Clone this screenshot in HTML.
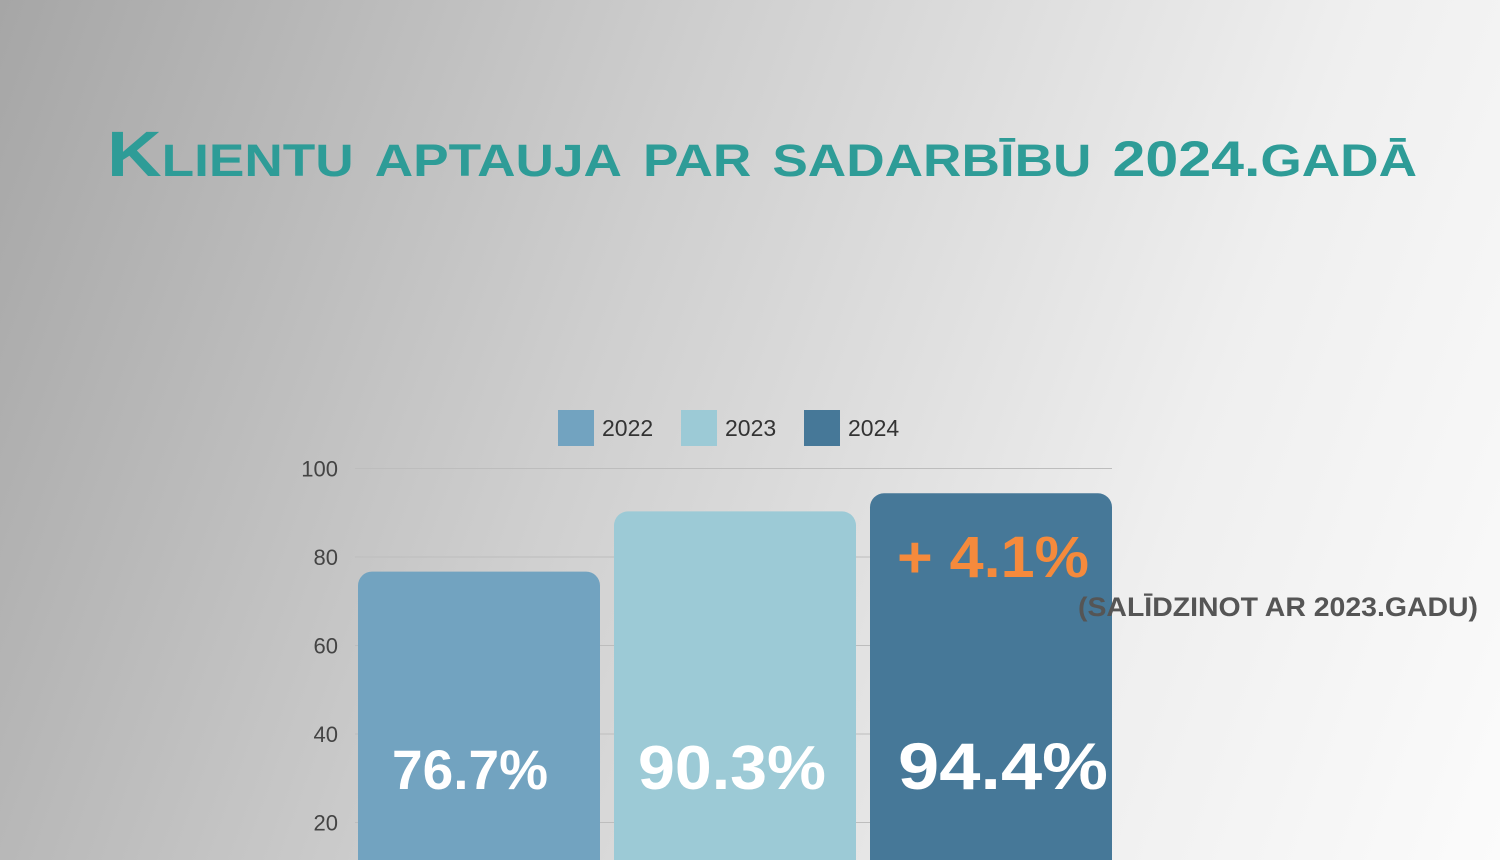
<!DOCTYPE html>
<html><head><meta charset="utf-8"><style>
html,body{margin:0;width:1500px;height:860px;overflow:hidden}
body{background:linear-gradient(110deg,#a6a6a6 0%,#cfcfcf 40%,#efefef 75%,#fbfbfb 100%);font-family:"Liberation Sans",sans-serif}
svg{display:block}
</style></head><body>
<svg width="1500" height="860" id="chart">
<text x="762" y="176" text-anchor="middle" fill="#2e9c97" font-size="64" font-weight="bold" style="font-variant:small-caps" textLength="1310" lengthAdjust="spacingAndGlyphs">Klientu aptauja par sadarbību <tspan font-size="50">2024.</tspan>gadā</text>
<g id="grid"></g><g id="bars"></g><g id="legend"></g>
<text x="1278" y="616" text-anchor="middle" fill="#555" font-size="27" font-weight="bold" textLength="400" lengthAdjust="spacingAndGlyphs">(SALĪDZINOT AR 2023.GADU)</text>
</svg>
<script>
const categories=["2022","2023","2024"];
const values=[76.7,90.3,94.4];
const labels=["76.7%","90.3%","94.4%"];
const ticks=[20,40,60,80,100];
const colors=["#72a3c0","#9ccad6","#467898"];
const NS="http://www.w3.org/2000/svg";
const y=v=>911-v*4.425;
const mk=(t,a,p)=>{const e=document.createElementNS(NS,t);for(const k in a)e.setAttribute(k,a[k]);p.appendChild(e);return e;};
const grid=document.getElementById('grid'),bars=document.getElementById('bars'),leg=document.getElementById('legend');
const lblW=[156,188,210],lblX=[392,638,898],lblS=[56,62,66];
ticks.forEach(t=>{
 const l=mk('line',{x1:355,x2:1112,y1:y(t),y2:y(t),stroke:'#bdbdbd','stroke-width':1},grid);
 
 
 const tx=mk('text',{x:338,y:y(t)+8,'text-anchor':'end','font-size':22,fill:'#444'},grid);
 tx.textContent=t;
 
 
});
categories.forEach((c,i)=>{
 const x=358+i*256,top=y(values[i]);
 const r=mk('rect',{x:x,y:top,width:242,height:900-top,rx:14,fill:colors[i]},bars);
 
 
 const t=mk('text',{x:lblX[i],y:789,'font-size':lblS[i],'font-weight':'bold',fill:'#fff',textLength:lblW[i],lengthAdjust:'spacingAndGlyphs'},bars);
 t.textContent=labels[i];
 
 
 const lx=558+i*123;
 const s=mk('rect',{x:lx,y:410,width:36,height:36,fill:colors[i]},leg);
 
 
 const lt=mk('text',{x:lx+44,y:436,'font-size':23,fill:'#333'},leg);
 lt.textContent=c;
 
 
});
const d=mk('text',{x:897,y:577,'font-size':58,'font-weight':'bold',fill:'#f58a3c',textLength:192,lengthAdjust:'spacingAndGlyphs'},bars);
d.textContent='+ '+(values[2]-values[1]).toFixed(1)+'%';


</script>
</body></html>
